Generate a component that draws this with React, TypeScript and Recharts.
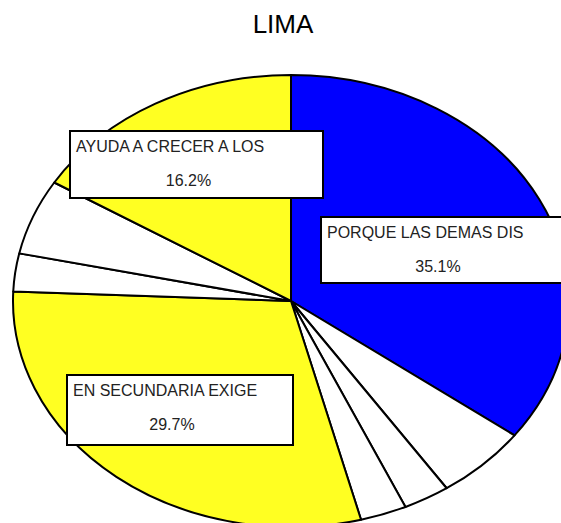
import { PieChart, Pie } from "recharts";

// respuestas (conteos) en orden horario desde las 12
const categories = [
  "PORQUE LAS DEMAS DIS",
  "OTRA RAZON 1",
  "OTRA RAZON 2",
  "OTRA RAZON 3",
  "EN SECUNDARIA EXIGE",
  "OTRA RAZON 4",
  "OTRA RAZON 5",
  "AYUDA A CRECER A LOS",
];
const counts = [13, 2, 1, 1, 11, 1, 2, 6];
const colors = [
  "#0000FF",
  "#FFFFFF",
  "#FFFFFF",
  "#FFFFFF",
  "#FFFF22",
  "#FFFFFF",
  "#FFFFFF",
  "#FFFF22",
];

const data = categories.map((name, i) => ({
  name,
  value: counts[i],
  fill: colors[i],
}));

const W = 561;
const H = 523;
const MARGIN = 5; // recharts default chart margin, cx/cy are offset by it
const CX = 291 - MARGIN;
const CY = 301 - MARGIN;
const RX = 278;
const ASPECT = 226 / 278;

// label boxes (x, y, w, h) for the labelled slices
const BOXES: Record<number, [number, number, number, number]> = {
  0: [321, 217, 250, 66],
  4: [67, 375, 226, 70],
  7: [70, 131, 253, 67],
};

const RAD = Math.PI / 180;

function EllipseSector(props: any) {
  const { cx, cy, outerRadius, startAngle, endAngle, fill } = props;
  const rx = outerRadius;
  const ry = outerRadius * ASPECT;
  const x0 = cx + rx * Math.cos(startAngle * RAD);
  const y0 = cy - ry * Math.sin(startAngle * RAD);
  const x1 = cx + rx * Math.cos(endAngle * RAD);
  const y1 = cy - ry * Math.sin(endAngle * RAD);
  const large = Math.abs(startAngle - endAngle) > 180 ? 1 : 0;
  const sweep = startAngle > endAngle ? 1 : 0;
  const d = `M${cx},${cy} L${x0},${y0} A${rx},${ry} 0 ${large} ${sweep} ${x1},${y1} Z`;
  return (
    <path
      d={d}
      fill={fill}
      stroke="#000"
      strokeWidth={2}
      strokeLinejoin="round"
    />
  );
}

function BoxLabel(props: any) {
  const { index, name, percent } = props;
  const box = BOXES[index];
  if (!box) return null;
  const [x, y, w, h] = box;
  return (
    <g>
      <rect
        x={x}
        y={y}
        width={w}
        height={h}
        fill="#FFFFFF"
        stroke="#000"
        strokeWidth={2}
      />
      <text
        x={x + 6}
        y={y + 21}
        fontSize={16}
        fontFamily="Liberation Sans, Arial, sans-serif"
        fill="#222"
      >
        {name}
      </text>
      <text
        x={x + w / 2 - 8}
        y={y + 55}
        fontSize={16}
        textAnchor="middle"
        fontFamily="Liberation Sans, Arial, sans-serif"
        fill="#222"
      >
        {(percent * 100).toFixed(1)}%
      </text>
    </g>
  );
}

export default function App() {
  return (
    <div
      style={{
        position: "absolute",
        left: 0,
        top: 0,
        width: W,
        height: H,
        background: "#fff",
        overflow: "hidden",
      }}
    >
      <div
        style={{
          position: "absolute",
          left: 0,
          top: 11,
          width: 566,
          textAlign: "center",
          fontFamily: "Liberation Sans, Arial, sans-serif",
          fontSize: 26,
          lineHeight: "26px",
          color: "#000",
        }}
      >
        LIMA
      </div>
      <PieChart width={W} height={H} style={{ position: "absolute", left: 0, top: 0 }}>
        <Pie
          data={data}
          dataKey="value"
          nameKey="name"
          cx={CX}
          cy={CY}
          innerRadius={0}
          outerRadius={RX}
          startAngle={90}
          endAngle={-270}
          shape={EllipseSector}
          activeShape={EllipseSector}
          inactiveShape={EllipseSector}
          label={BoxLabel}
          labelLine={false}
          isAnimationActive={false}
        />
      </PieChart>
    </div>
  );
}
